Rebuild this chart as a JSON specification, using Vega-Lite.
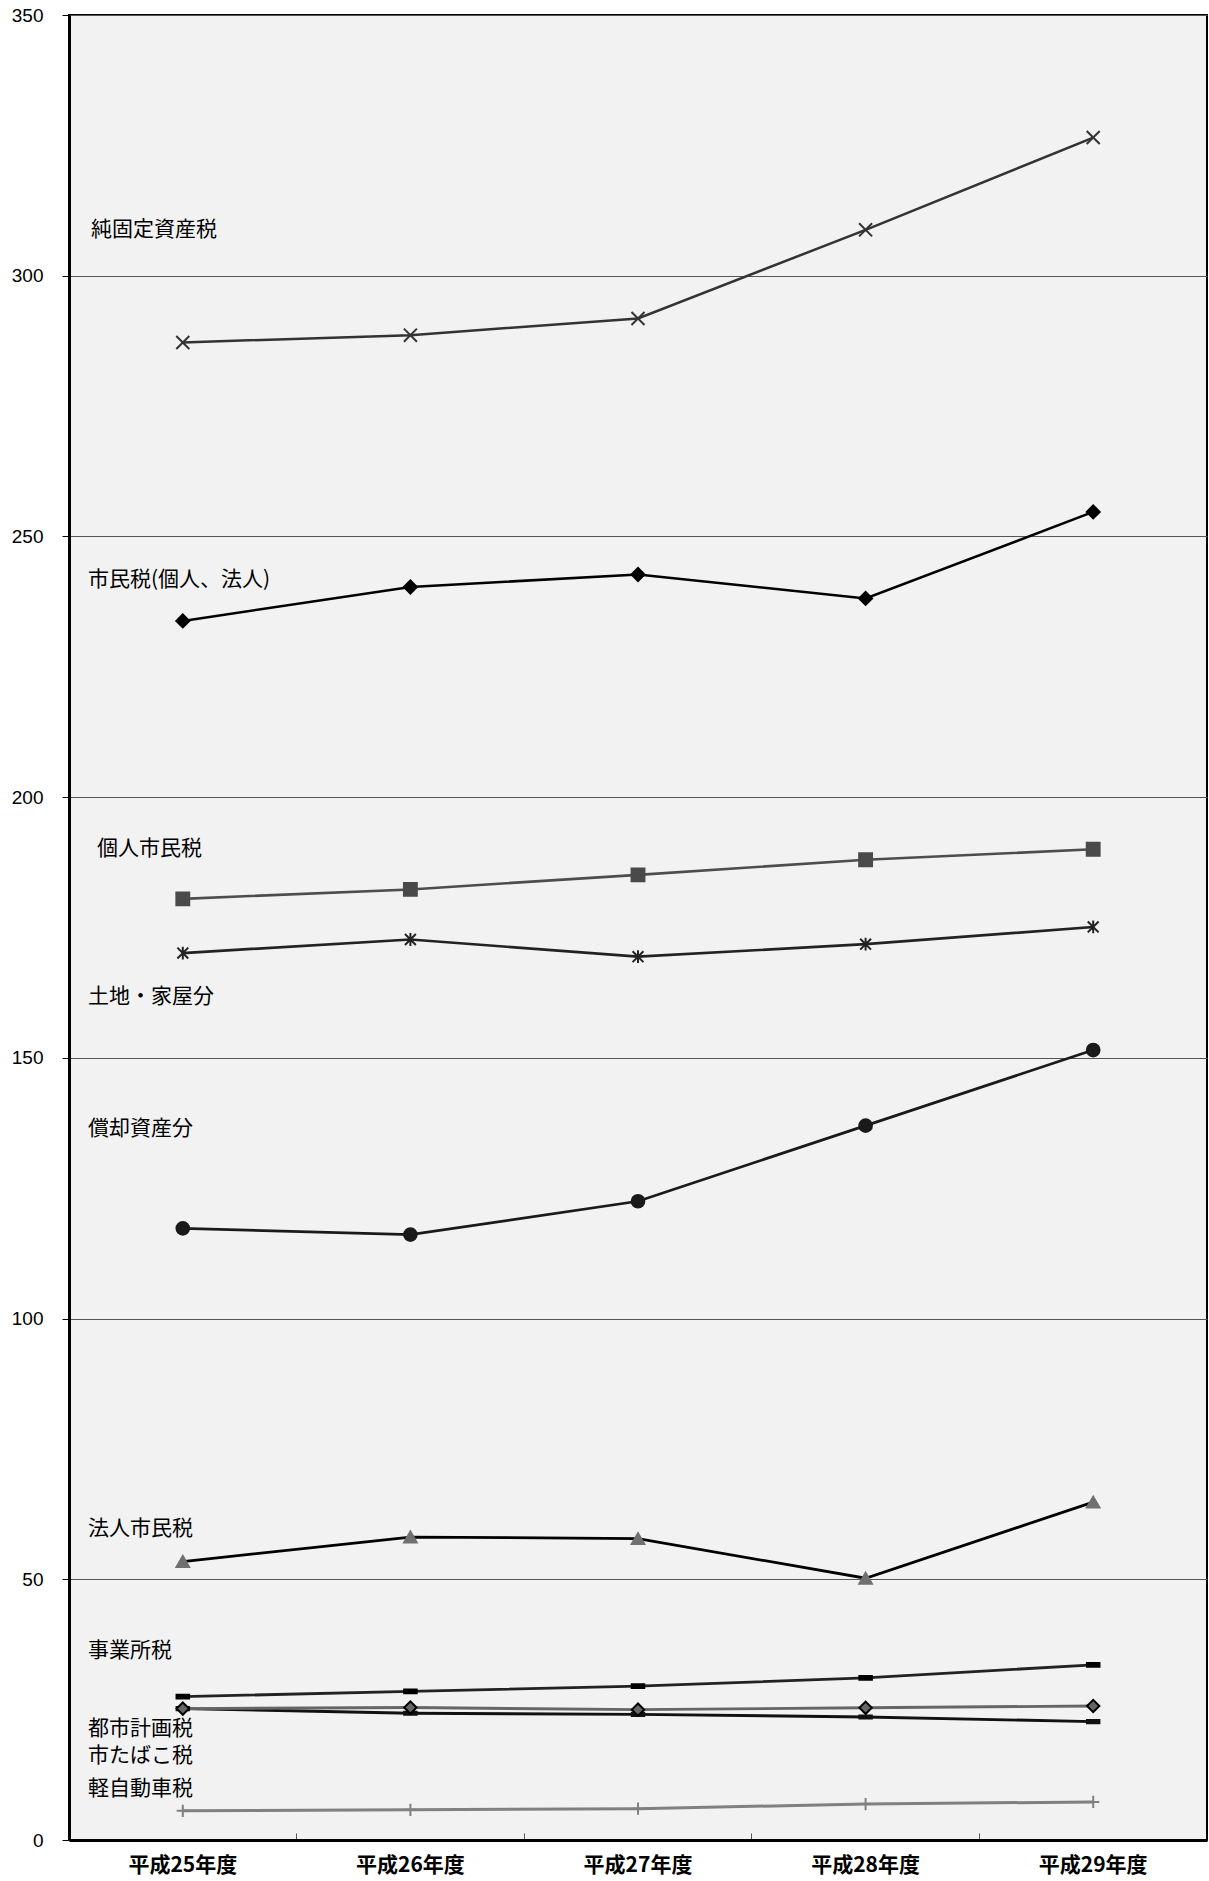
{
  "$schema": "https://vega.github.io/schema/vega-lite/v6.json",
  "width": 1138,
  "height": 1825,
  "autosize": {"type": "none"},
  "padding": {"left": 69, "top": 15, "right": 2, "bottom": 41},
  "background": "white",
  "config": {
    "view": {"fill": "#f2f2f2", "stroke": "#000000", "strokeWidth": 2},
    "legend": {"disable": true}
  },
  "datasets": {
    "series": [
      {"year": "平成25年度", "series": "純固定資産税", "value": 287.2},
      {"year": "平成26年度", "series": "純固定資産税", "value": 288.6},
      {"year": "平成27年度", "series": "純固定資産税", "value": 291.8},
      {"year": "平成28年度", "series": "純固定資産税", "value": 308.8},
      {"year": "平成29年度", "series": "純固定資産税", "value": 326.5},
      {"year": "平成25年度", "series": "市民税(個人、法人)", "value": 233.8},
      {"year": "平成26年度", "series": "市民税(個人、法人)", "value": 240.3},
      {"year": "平成27年度", "series": "市民税(個人、法人)", "value": 242.7},
      {"year": "平成28年度", "series": "市民税(個人、法人)", "value": 238.1},
      {"year": "平成29年度", "series": "市民税(個人、法人)", "value": 254.7},
      {"year": "平成25年度", "series": "個人市民税", "value": 180.5},
      {"year": "平成26年度", "series": "個人市民税", "value": 182.3},
      {"year": "平成27年度", "series": "個人市民税", "value": 185.1},
      {"year": "平成28年度", "series": "個人市民税", "value": 188.0},
      {"year": "平成29年度", "series": "個人市民税", "value": 190.0},
      {"year": "平成25年度", "series": "土地・家屋分", "value": 170.1},
      {"year": "平成26年度", "series": "土地・家屋分", "value": 172.7},
      {"year": "平成27年度", "series": "土地・家屋分", "value": 169.4},
      {"year": "平成28年度", "series": "土地・家屋分", "value": 171.8},
      {"year": "平成29年度", "series": "土地・家屋分", "value": 175.1},
      {"year": "平成25年度", "series": "償却資産分", "value": 117.3},
      {"year": "平成26年度", "series": "償却資産分", "value": 116.1},
      {"year": "平成27年度", "series": "償却資産分", "value": 122.5},
      {"year": "平成28年度", "series": "償却資産分", "value": 137.0},
      {"year": "平成29年度", "series": "償却資産分", "value": 151.5},
      {"year": "平成25年度", "series": "法人市民税", "value": 53.4},
      {"year": "平成26年度", "series": "法人市民税", "value": 58.1},
      {"year": "平成27年度", "series": "法人市民税", "value": 57.8},
      {"year": "平成28年度", "series": "法人市民税", "value": 50.2},
      {"year": "平成29年度", "series": "法人市民税", "value": 64.8},
      {"year": "平成25年度", "series": "事業所税", "value": 27.5},
      {"year": "平成26年度", "series": "事業所税", "value": 28.5},
      {"year": "平成27年度", "series": "事業所税", "value": 29.5},
      {"year": "平成28年度", "series": "事業所税", "value": 31.1},
      {"year": "平成29年度", "series": "事業所税", "value": 33.6},
      {"year": "平成25年度", "series": "市たばこ税", "value": 25.2},
      {"year": "平成26年度", "series": "市たばこ税", "value": 24.3},
      {"year": "平成27年度", "series": "市たばこ税", "value": 24.1},
      {"year": "平成28年度", "series": "市たばこ税", "value": 23.6},
      {"year": "平成29年度", "series": "市たばこ税", "value": 22.7},
      {"year": "平成25年度", "series": "都市計画税", "value": 25.2},
      {"year": "平成26年度", "series": "都市計画税", "value": 25.4},
      {"year": "平成27年度", "series": "都市計画税", "value": 25.0},
      {"year": "平成28年度", "series": "都市計画税", "value": 25.35},
      {"year": "平成29年度", "series": "都市計画税", "value": 25.7},
      {"year": "平成25年度", "series": "軽自動車税", "value": 5.6},
      {"year": "平成26年度", "series": "軽自動車税", "value": 5.8},
      {"year": "平成27年度", "series": "軽自動車税", "value": 6.0},
      {"year": "平成28年度", "series": "軽自動車税", "value": 6.9},
      {"year": "平成29年度", "series": "軽自動車税", "value": 7.3}
    ],
    "labels": [
      {"year": "平成25年度", "label": "純固定資産税", "value": 308.7},
      {"year": "平成25年度", "label": "市民税(個人、法人)", "value": 241.7},
      {"year": "平成25年度", "label": "個人市民税", "value": 190.0},
      {"year": "平成25年度", "label": "土地・家屋分", "value": 161.7},
      {"year": "平成25年度", "label": "償却資産分", "value": 136.3},
      {"year": "平成25年度", "label": "法人市民税", "value": 59.7},
      {"year": "平成25年度", "label": "事業所税", "value": 36.3},
      {"year": "平成25年度", "label": "都市計画税", "value": 21.3},
      {"year": "平成25年度", "label": "市たばこ税", "value": 16.1},
      {"year": "平成25年度", "label": "軽自動車税", "value": 9.7}
    ]
  },
  "encoding": {
    "x": {
      "field": "year",
      "type": "ordinal",
      "sort": ["平成25年度", "平成26年度", "平成27年度", "平成28年度", "平成29年度"],
      "scale": {"type": "band", "paddingInner": 0, "paddingOuter": 0},
      "axis": {
        "title": null,
        "labelAngle": 0,
        "bandPosition": 0,
        "tickSize": -7,
        "tickColor": "#555555",
        "tickWidth": 1,
        "labelPadding": 21,
        "labelFont": "Noto Sans CJK JP",
        "labelFontSize": 21,
        "labelFontWeight": "bold",
        "labelColor": "#000000",
        "domainColor": "#000000",
        "domainWidth": 3,
        "grid": false
      }
    },
    "y": {
      "field": "value",
      "type": "quantitative",
      "scale": {"domain": [0, 350], "nice": false},
      "axis": {
        "title": null,
        "values": [0, 50, 100, 150, 200, 250, 300, 350],
        "grid": true,
        "gridColor": "#555555",
        "gridWidth": 1,
        "tickSize": 7,
        "tickColor": "#000000",
        "tickWidth": 1,
        "labelPadding": 19,
        "labelFont": "Liberation Sans",
        "labelFontSize": 19,
        "labelColor": "#000000",
        "domainColor": "#000000",
        "domainWidth": 3
      }
    }
  },
  "layer": [
    {
      "data": {"name": "series"},
      "mark": {"type": "line"},
      "encoding": {
        "color": {
          "field": "series",
          "type": "nominal",
          "scale": {
            "domain": ["純固定資産税", "市民税(個人、法人)", "個人市民税", "土地・家屋分", "償却資産分", "法人市民税", "事業所税", "市たばこ税", "都市計画税", "軽自動車税"],
            "range": ["#333333", "#000000", "#4d4d4d", "#222222", "#1a1a1a", "#000000", "#222222", "#111111", "#666666", "#808080"]
          }
        },
        "strokeWidth": {
          "field": "series",
          "type": "nominal",
          "scale": {
            "domain": ["純固定資産税", "市民税(個人、法人)", "個人市民税", "土地・家屋分", "償却資産分", "法人市民税", "事業所税", "市たばこ税", "都市計画税", "軽自動車税"],
            "range": [2.5, 3, 2.5, 2.5, 2.5, 3, 2.5, 2.5, 2.5, 2.5]
          }
        }
      }
    },
    {
      "data": {"name": "series"},
      "mark": {"type": "point", "opacity": 1, "strokeWidth": 2},
      "encoding": {
        "shape": {
          "field": "series",
          "type": "nominal",
          "scale": {
            "domain": ["純固定資産税", "市民税(個人、法人)", "個人市民税", "土地・家屋分", "償却資産分", "法人市民税", "事業所税", "市たばこ税", "都市計画税", "軽自動車税"],
            "range": ["M-1,-1L1,1M-1,1L1,-1", "diamond", "square", "M-0.85,-0.85L0.85,0.85M-0.85,0.85L0.85,-0.85M0,-1L0,1", "circle", "triangle-up", "M-1,-0.3L1,-0.3L1,0.3L-1,0.3Z", "M-1,-0.25L1,-0.25L1,0.25L-1,0.25Z", "diamond", "M-1,0L1,0M0,-1L0,1"]
          }
        },
        "size": {
          "field": "series",
          "type": "nominal",
          "scale": {
            "domain": ["純固定資産税", "市民税(個人、法人)", "個人市民税", "土地・家屋分", "償却資産分", "法人市民税", "事業所税", "市たばこ税", "都市計画税", "軽自動車税"],
            "range": [170, 150, 190, 150, 170, 80, 160, 120, 150, 144]
          }
        },
        "fill": {
          "field": "series",
          "type": "nominal",
          "scale": {
            "domain": ["純固定資産税", "市民税(個人、法人)", "個人市民税", "土地・家屋分", "償却資産分", "法人市民税", "事業所税", "市たばこ税", "都市計画税", "軽自動車税"],
            "range": ["#333333", "#000000", "#4a4a4a", "#222222", "#1a1a1a", "#707070", "#000000", "#111111", "#666666", "#808080"]
          }
        },
        "stroke": {
          "field": "series",
          "type": "nominal",
          "scale": {
            "domain": ["純固定資産税", "市民税(個人、法人)", "個人市民税", "土地・家屋分", "償却資産分", "法人市民税", "事業所税", "市たばこ税", "都市計画税", "軽自動車税"],
            "range": ["#333333", "#000000", "#4a4a4a", "#222222", "#1a1a1a", "#707070", "#000000", "#111111", "#000000", "#808080"]
          }
        }
      }
    },
    {
      "data": {"name": "labels"},
      "transform": [{"filter": "datum.label !== '個人市民税' && datum.label !== '純固定資産税'"}],
      "mark": {"type": "text", "align": "left", "baseline": "middle", "dx": 19, "font": "Noto Sans CJK JP", "fontSize": 21, "color": "#000000"},
      "encoding": {
        "x": {"field": "year", "type": "ordinal", "bandPosition": 0},
        "text": {"field": "label", "type": "nominal"}
      }
    },
    {
      "data": {"name": "labels"},
      "transform": [{"filter": "datum.label === '純固定資産税'"}],
      "mark": {"type": "text", "align": "left", "baseline": "middle", "dx": 22, "font": "Noto Sans CJK JP", "fontSize": 21, "color": "#000000"},
      "encoding": {
        "x": {"field": "year", "type": "ordinal", "bandPosition": 0},
        "text": {"field": "label", "type": "nominal"}
      }
    },
    {
      "data": {"name": "labels"},
      "transform": [{"filter": "datum.label === '個人市民税'"}],
      "mark": {"type": "text", "align": "left", "baseline": "middle", "dx": 28, "font": "Noto Sans CJK JP", "fontSize": 21, "color": "#000000"},
      "encoding": {
        "x": {"field": "year", "type": "ordinal", "bandPosition": 0},
        "text": {"field": "label", "type": "nominal"}
      }
    }
  ]
}
